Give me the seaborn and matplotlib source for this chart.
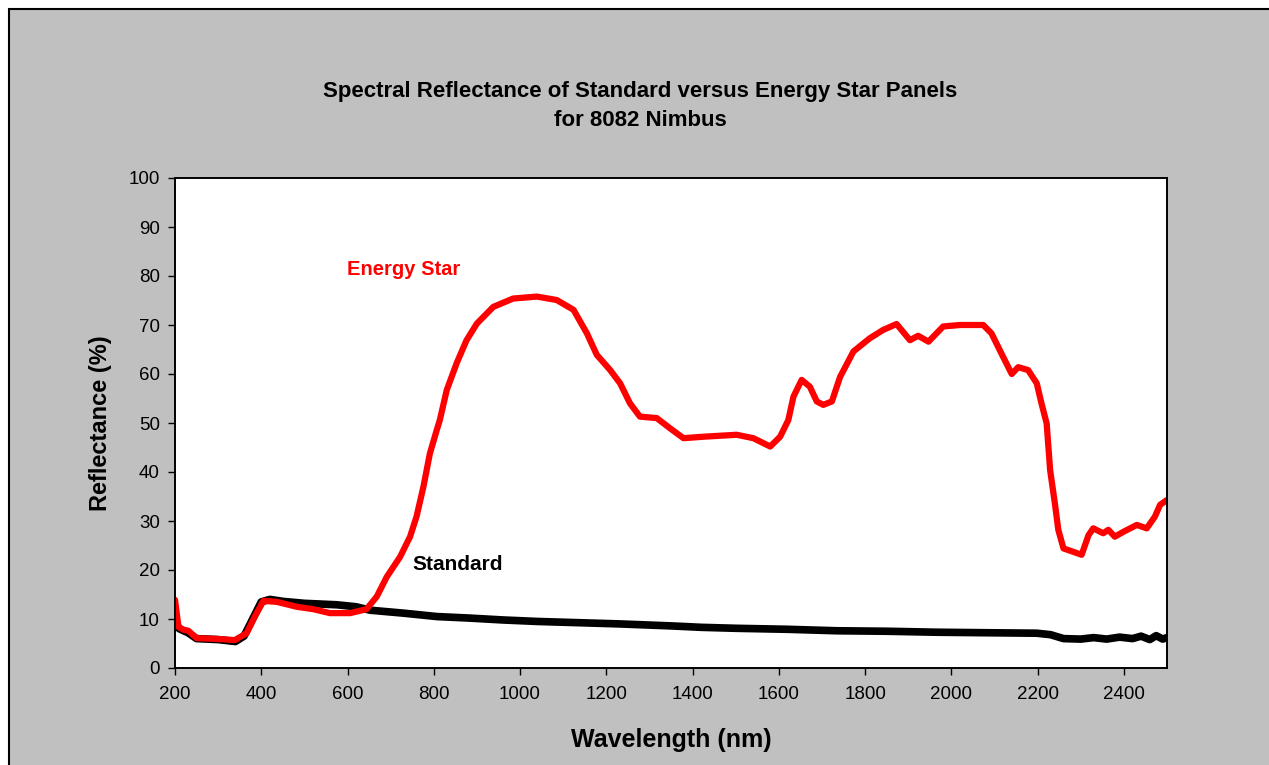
import matplotlib
matplotlib.use("Agg")
import matplotlib.pyplot as plt
from matplotlib.patches import Rectangle
import seaborn as sns
import pandas as pd

# curves (wavelength nm, reflectance %)
wl_energy = [200, 205, 208, 220, 231, 250, 304, 339, 366, 385, 405, 436, 482, 521, 559, 606,
             644, 668, 691, 722, 745, 760, 776, 791, 807, 814, 830, 853, 876, 900, 938, 984,
             1039, 1085, 1124, 1155, 1178, 1209, 1232, 1255, 1278, 1317, 1348, 1379, 1425,
             1502, 1541, 1580, 1603, 1622, 1634, 1653, 1672, 1688, 1703, 1723, 1742, 1773,
             1811, 1842, 1873, 1904, 1923, 1947, 1981, 2020, 2074, 2093, 2120, 2140, 2155,
             2178, 2198, 2209, 2221, 2229, 2240, 2248, 2260, 2283, 2302, 2318, 2329, 2352,
             2364, 2379, 2399, 2430, 2453, 2472, 2484, 2500]
refl_energy = [13.9, 10.5, 8.4, 7.8, 7.6, 6.1, 5.9, 5.7, 7.1, 10.5, 13.7, 13.5, 12.5, 12.0, 11.2, 11.2,
               12.0, 14.6, 18.6, 22.7, 26.8, 30.9, 37.0, 43.8, 48.6, 50.6, 56.7, 62.2, 66.9, 70.3, 73.7, 75.4,
               75.8, 75.1, 73.1, 68.3, 63.9, 60.8, 58.1, 54.0, 51.3, 51.0, 48.9, 46.9, 47.2,
               47.6, 46.9, 45.2, 47.2, 50.6, 55.4, 58.8, 57.4, 54.4, 53.7, 54.4, 59.4, 64.6,
               67.3, 69.0, 70.2, 66.9, 67.8, 66.6, 69.7, 70.0, 70.0, 68.3, 63.5, 60.0, 61.4,
               60.8, 58.1, 54.0, 49.9, 40.4, 33.6, 28.2, 24.4, 23.7, 23.1, 27.1, 28.5, 27.5,
               28.2, 26.8, 27.8, 29.2, 28.5, 30.9, 33.3, 34.3]

wl_standard = [200, 210, 230, 250, 300, 340, 360, 380, 400, 420, 450, 500, 575, 620, 652, 729,
               807, 880, 961, 1040, 1116, 1230, 1348, 1420, 1502, 1620, 1734, 1850, 1966, 2080,
               2198, 2230, 2260, 2300, 2330, 2360, 2390, 2420, 2440, 2460, 2475, 2490, 2500]
refl_standard = [9.5, 8.0, 7.2, 6.0, 5.8, 5.4, 6.5, 10.0, 13.5, 14.0, 13.6, 13.2, 12.9, 12.5, 11.8, 11.2,
                 10.5, 10.2, 9.8, 9.5, 9.3, 9.0, 8.6, 8.3, 8.1, 7.9, 7.6, 7.5, 7.3, 7.2,
                 7.1, 6.8, 6.0, 5.9, 6.2, 5.9, 6.3, 6.0, 6.5, 5.8, 6.6, 5.9, 6.2]

x_ticks = list(range(200, 2401, 200))
y_ticks = list(range(0, 101, 10))

sns.set_theme(style="white")
plt.rcParams['font.family'] = ['Liberation Sans', 'DejaVu Sans']

fig = plt.figure(figsize=(12.69, 7.65), dpi=100)
fig.patch.set_facecolor("white")
# grey chart area with black border (cut off on right and bottom)
fig.patches.append(Rectangle((9 / 1269, -0.05), 1.1, 1 - 9 / 765 + 0.05, transform=fig.transFigure,
                             facecolor="#c0c0c0", edgecolor="black", linewidth=1.5, zorder=-10))

ax = fig.add_axes([175 / 1269, 1 - 668 / 765, 992 / 1269, 490 / 765])
ax.set_facecolor("white")

df_std = pd.DataFrame({"wl": wl_standard, "r": refl_standard})
df_es = pd.DataFrame({"wl": wl_energy, "r": refl_energy})
sns.lineplot(data=df_std, x="wl", y="r", ax=ax, color="black", linewidth=5.5,
             solid_capstyle="round", solid_joinstyle="round")
sns.lineplot(data=df_es, x="wl", y="r", ax=ax, color="#ff0000", linewidth=4.5,
             solid_capstyle="round", solid_joinstyle="round")

ax.set_xlim(200, 2500)
ax.set_ylim(0, 100)
ax.set_xticks(x_ticks)
ax.set_yticks(y_ticks)
ax.tick_params(axis="both", direction="out", length=5, width=1, color="black",
               labelsize=13.5, labelcolor="black", bottom=True, left=True)
ax.tick_params(axis="x", pad=8)
ax.tick_params(axis="y", pad=6)
for s in ax.spines.values():
    s.set_color("black")
    s.set_linewidth(1.4)

ax.set_xlabel("Wavelength (nm)", fontsize=18, fontweight="bold", color="black")
ax.set_ylabel("Reflectance (%)", fontsize=17, fontweight="bold", color="black")
ax.xaxis.set_label_coords(0.5, -0.122)
ax.yaxis.set_label_coords(-0.064, 0.5)

ax.text(599, 81.4, "Energy Star", color="#ff0000", fontsize=14.5, fontweight="bold",
        ha="left", va="center")
ax.text(750, 21.2, "Standard", color="black", fontsize=15, fontweight="bold",
        ha="left", va="center")

fig.text(640 / 1269, 1 - 92 / 765, "Spectral Reflectance of Standard versus Energy Star Panels",
         ha="center", va="center", fontsize=16, fontweight="bold", color="black")
fig.text(640 / 1269, 1 - 120 / 765, "for 8082 Nimbus",
         ha="center", va="center", fontsize=16, fontweight="bold", color="black")

fig.savefig("out.png", dpi=100, facecolor=fig.get_facecolor())
